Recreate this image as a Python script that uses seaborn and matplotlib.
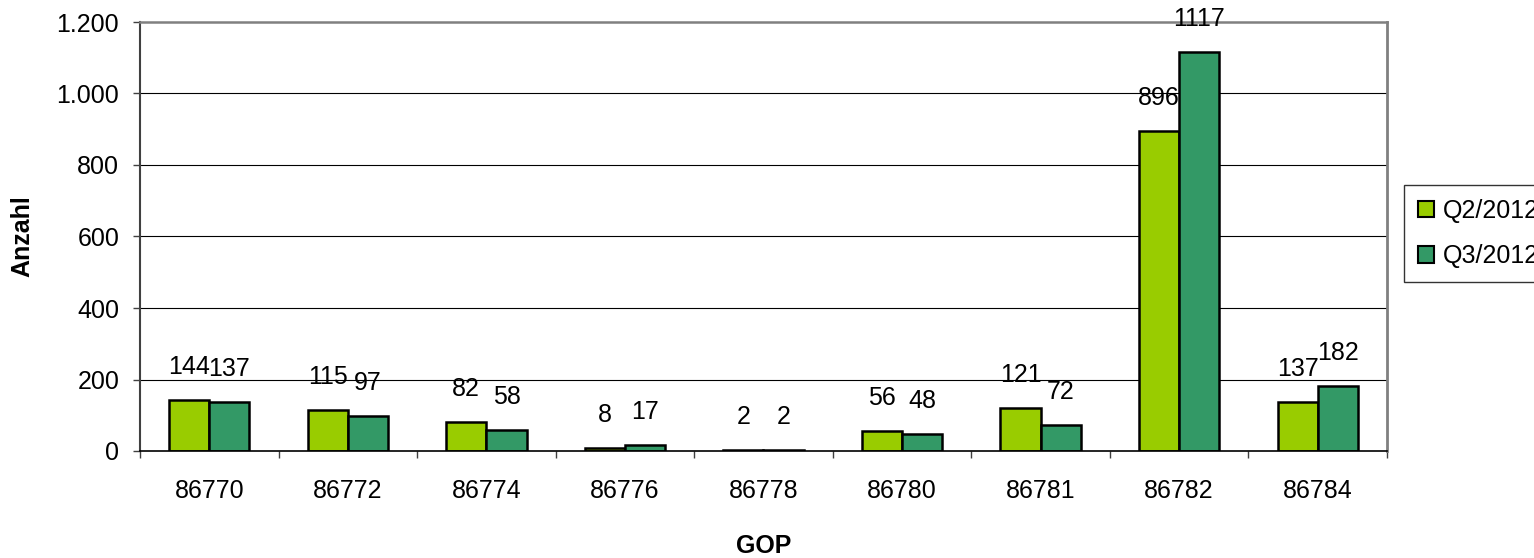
import matplotlib
matplotlib.use("Agg")
import matplotlib.pyplot as plt
import matplotlib.ticker as mticker
from matplotlib.patches import Patch
import numpy as np
import pandas as pd
import seaborn as sns

# Data
gop = ["86770", "86772", "86774", "86776", "86778", "86780", "86781", "86782", "86784"]
q2_2012 = [144, 115, 82, 8, 2, 56, 121, 896, 137]
q3_2012 = [137, 97, 58, 17, 2, 48, 72, 1117, 182]
series_names = ["Q2/2012", "Q3/2012"]
colors = ["#99CC00", "#339966"]

df = pd.DataFrame({
    "GOP": gop * 2,
    "Anzahl": q2_2012 + q3_2012,
    "Quartal": [series_names[0]] * len(gop) + [series_names[1]] * len(gop),
})

sns.set_style("white")
plt.rcParams["font.family"] = ["Liberation Sans", "DejaVu Sans"]
plt.rcParams["text.color"] = "black"
plt.rcParams["axes.labelcolor"] = "black"
plt.rcParams["xtick.color"] = "black"
plt.rcParams["ytick.color"] = "black"
FS = 18

W, H = 1534, 558
fig = plt.figure(figsize=(W / 100, H / 100), dpi=100)
ax = fig.add_axes([140 / W, 1 - 451 / H, (1387 - 140) / W, (451 - 22) / H])

sns.barplot(
    data=df, x="GOP", y="Anzahl", hue="Quartal", order=gop,
    hue_order=series_names, palette=colors, saturation=1,
    width=0.58, gap=0, edgecolor="black", linewidth=1.8,
    legend=False, ax=ax,
)

# Value labels above each bar
for cont, vals in zip(ax.containers, [q2_2012, q3_2012]):
    ax.bar_label(cont, labels=[str(v) for v in vals], padding=15,
                 fontsize=FS, color="black")

# Axes styling
ax.set_ylim(0, 1200)
ax.set_xlim(-0.5, len(gop) - 0.5)
ax.set_yticks(np.arange(0, 1201, 200))
ax.yaxis.set_major_formatter(
    mticker.FuncFormatter(lambda v, p: f"{int(v):,}".replace(",", "."))
)
ax.set_axisbelow(True)
ax.yaxis.grid(True, color="black", linewidth=0.8)
ax.xaxis.grid(False)
ax.get_ygridlines()[-1].set_visible(False)
ax.get_ygridlines()[0].set_visible(False)

ax.spines["left"].set_color("#404040")
ax.spines["left"].set_linewidth(1.5)
ax.spines["bottom"].set_color("black")
ax.spines["bottom"].set_linewidth(1.2)
ax.spines["top"].set_color("#808080")
ax.spines["top"].set_linewidth(1.8)
ax.spines["right"].set_color("#808080")
ax.spines["right"].set_linewidth(2.0)
for s in ax.spines.values():
    s.set_visible(True)

ax.tick_params(axis="y", which="major", left=True, length=5, width=1,
               color="#404040", labelcolor="black", pad=10, labelsize=FS)
ax.tick_params(axis="x", which="major", bottom=True, length=0, pad=20,
               labelcolor="black", labelsize=FS)
ax.set_xticks(np.arange(-0.5, len(gop), 1.0), minor=True)
ax.tick_params(axis="x", which="minor", bottom=True, length=5, width=1,
               color="#404040")

ax.set_xlabel("GOP", fontsize=FS, fontweight="bold", color="black")
ax.set_ylabel("Anzahl", fontsize=FS, fontweight="bold", color="black")
ax.xaxis.set_label_coords(0.5, -(534 - 451) / (451 - 22))
ax.yaxis.set_label_coords(-(140 - 34) / (1387 - 140), 0.5)

# Legend
handles = [Patch(facecolor=c, edgecolor="black", linewidth=1.5) for c in colors]
leg = fig.legend(
    handles, series_names, loc="upper left",
    bbox_to_anchor=(1404 / W, 1 - 185 / H), bbox_transform=fig.transFigure,
    fontsize=FS, frameon=True, fancybox=False, shadow=False,
    borderaxespad=0, borderpad=0.55, labelspacing=0.85,
    handlelength=0.65, handleheight=0.65, handletextpad=0.35,
)
leg.get_frame().set_edgecolor("black")
leg.get_frame().set_linewidth(1.0)
for t in leg.get_texts():
    t.set_color("black")

fig.savefig("out.png", dpi=100)
